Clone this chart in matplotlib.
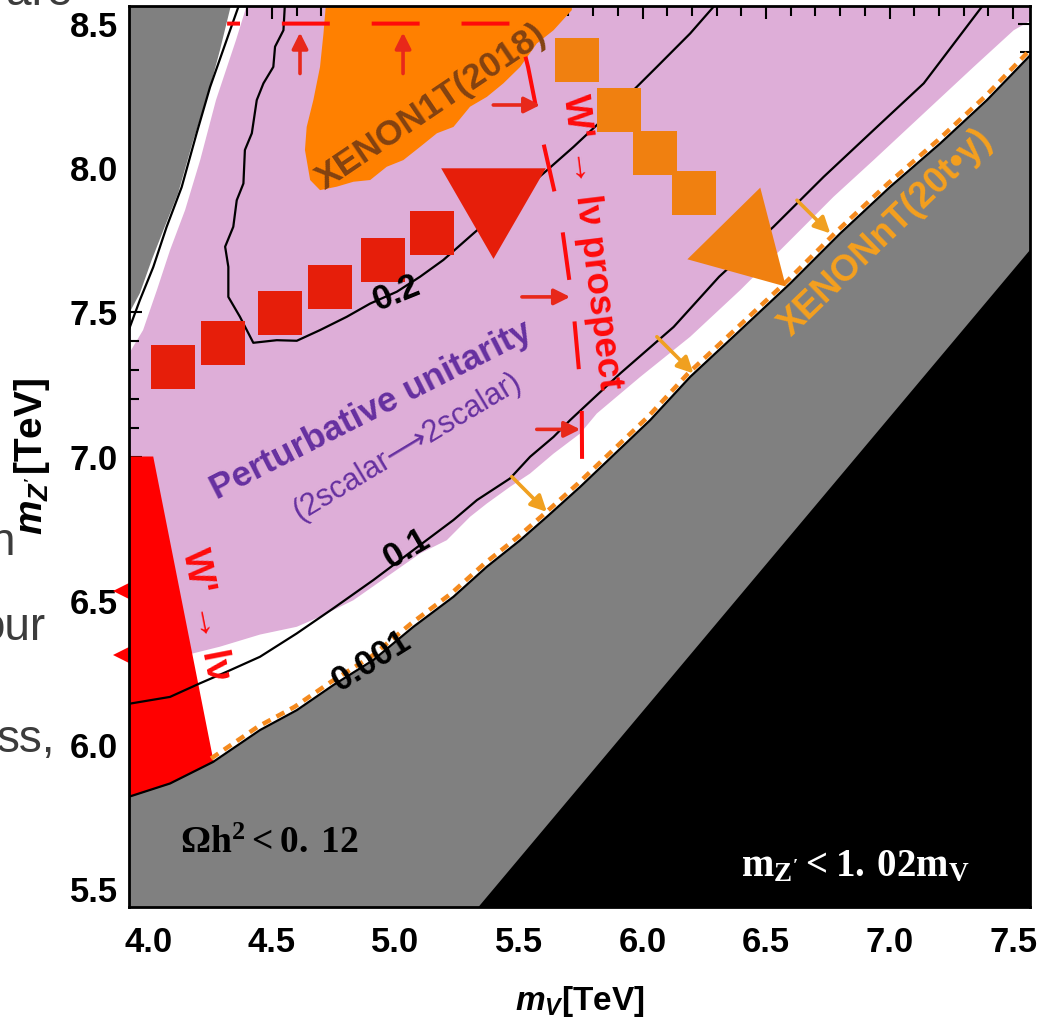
import numpy as np
import matplotlib.pyplot as plt
from matplotlib import transforms
from matplotlib.ticker import MultipleLocator

plt.rcParams['mathtext.fontset'] = 'custom'
plt.rcParams['mathtext.it'] = 'Liberation Sans:italic:bold'
plt.rcParams['mathtext.rm'] = 'Liberation Serif:bold'
plt.rcParams['mathtext.bf'] = 'Liberation Serif:bold'
plt.rcParams['font.family'] = ['Liberation Sans', 'DejaVu Sans']
plt.rcParams['font.weight'] = 'bold'
plt.rcParams['axes.labelweight'] = 'bold'

# axis window [TeV]
MV_LIM = (3.922, 7.568)
MZ_LIM = (5.439, 8.561)
MASS_RATIO = 1.02          # m_Z' < 1.02 m_V excluded
mv_edge = np.array([5.0, 7.8])

# relic density boundary (lower gray region, 0.001 contour)
relic_lo_mv = [3.90, 4.088, 4.263, 4.452, 4.601, 4.749, 4.911, 5.073, 5.235, 5.370, 5.505,
               5.613, 5.748, 6.031, 6.193, 6.396, 6.598, 6.800, 7.003, 7.205, 7.394, 7.58]
relic_lo_mz = [5.815, 5.867, 5.942, 6.052, 6.121, 6.208, 6.295, 6.410, 6.514, 6.618, 6.710,
               6.791, 6.895, 7.126, 7.276, 7.438, 7.600, 7.773, 7.935, 8.085, 8.235, 8.40]

# relic density boundary (upper-left gray region)
relic_ul_mv = [3.85, 4.345, 4.290, 4.236, 4.182, 4.121, 4.061, 4.014, 3.966, 3.90, 3.85]
relic_ul_mz = [8.60, 8.60, 8.408, 8.235, 8.096, 7.913, 7.784, 7.681, 7.566, 7.46, 7.46]

# contour lines
c_edge_mv = [4.382, 4.331, 4.250, 4.196, 4.135, 4.074, 4.020, 3.966, 3.90]
c_edge_mz = [8.60, 8.477, 8.280, 8.121, 7.933, 7.795, 7.656, 7.542, 7.39]

c02_mv = [4.555, 4.547, 4.513, 4.506, 4.466, 4.439, 4.419, 4.391, 4.385, 4.358, 4.344, 4.311,
          4.324, 4.324, 4.371, 4.425, 4.520, 4.601, 4.695, 4.803, 4.898, 5.006, 5.100, 5.194,
          5.316, 5.599, 5.721, 5.923, 6.058, 6.193, 6.33]
c02_mz = [8.60, 8.477, 8.420, 8.350, 8.293, 8.235, 8.120, 8.062, 7.946, 7.888, 7.796, 7.727,
          7.657, 7.553, 7.484, 7.394, 7.403, 7.401, 7.438, 7.484, 7.530, 7.571, 7.623, 7.681,
          7.773, 7.981, 8.073, 8.235, 8.350, 8.466, 8.60]

c01_mv = [3.90, 4.088, 4.209, 4.317, 4.452, 4.601, 4.749, 4.911, 5.073, 5.235, 5.330, 5.464,
          5.545, 5.640, 5.707, 5.910, 6.126, 6.310, 6.530, 6.733, 6.935, 7.138, 7.41]
c01_mz = [6.140, 6.167, 6.214, 6.254, 6.306, 6.387, 6.474, 6.572, 6.676, 6.780, 6.849, 6.924,
          6.999, 7.068, 7.126, 7.288, 7.449, 7.623, 7.796, 7.969, 8.131, 8.293, 8.60]

# perturbative unitarity region (2scalar -> 2scalar)
pu_left_mv = [3.90, 3.979, 4.035, 4.088, 4.149, 4.210, 4.274, 4.355, 4.412]
pu_left_mz = [7.325, 7.438, 7.577, 7.715, 7.854, 8.027, 8.235, 8.443, 8.60]
pu_right_mv = [7.60, 7.58, 7.502, 7.340, 7.138, 6.935, 6.773, 6.611, 6.396, 6.193, 5.991, 5.815,
               5.748, 5.640, 5.545, 5.464, 5.370, 5.302, 5.208, 5.100, 4.965, 4.830, 4.695,
               4.601, 4.452, 4.290, 4.182, 3.90]
pu_right_mz = [8.60, 8.515, 8.477, 8.350, 8.189, 8.027, 7.900, 7.761, 7.577, 7.415, 7.276, 7.149,
               7.080, 7.010, 6.941, 6.895, 6.837, 6.791, 6.710, 6.664, 6.583, 6.502, 6.445,
               6.410, 6.383, 6.341, 6.318, 6.272]

# XENON1T(2018) excluded region
x1t_mv = [4.722, 5.714, 5.714, 5.640, 5.572, 5.505, 5.437, 5.370, 5.302, 5.235, 5.168, 5.100,
          5.032, 4.965, 4.898, 4.830, 4.763, 4.695, 4.655, 4.634, 4.641, 4.668, 4.695, 4.709]
x1t_mz = [8.60, 8.60, 8.547, 8.477, 8.431, 8.350, 8.293, 8.246, 8.212, 8.142, 8.120, 8.073,
          8.027, 8.004, 7.958, 7.952, 7.935, 7.923, 7.958, 8.062, 8.142, 8.235, 8.350, 8.466]

# W' -> l nu current bound
wl_mv = [3.85, 4.020, 4.263, 4.30, 3.85]
wl_mz = [7.000, 7.000, 5.949, 5.78, 5.78]

# W' -> l nu prospect
wlp_mv = [4.319, 5.493, 5.537, 5.590, 5.671, 5.721, 5.754, 5.756]
wlp_mz = [8.500, 8.500, 8.349, 8.120, 7.815, 7.504, 7.192, 6.884]

# benchmark points
red_sq_mv = [4.102, 4.304, 4.533, 4.736, 4.951, 5.147]
red_sq_mz = [7.311, 7.392, 7.496, 7.588, 7.681, 7.773]
red_tri_mv, red_tri_mz = [5.393], [7.896]
or_sq_mv = [5.734, 5.903, 6.051, 6.207]
or_sq_mz = [8.373, 8.200, 8.050, 7.912]
or_tri_mv, or_tri_mz = [6.409], [7.738]

# arrows (tail -> tip)
up_arr_mv = [4.614, 5.031]
up_arr_mz = (8.327, 8.469)
rt_arr_mz = [8.218, 7.553, 7.094]
rt_arr_tail = [5.396, 5.512, 5.572]
rt_arr_tip = [5.586, 5.707, 5.748]
or_arr_tail = [(5.471, 6.930), (6.058, 7.415), (6.625, 7.888)]
or_arr_tip = [(5.613, 6.808), (6.206, 7.288), (6.760, 7.773)]

PINK = '#deaed8'
GRAY = '#808080'
ORANGE = '#ff8000'
ORANGE_PT = '#f08010'
ORANGE_LN = '#f5a01e'
RED = '#ff0a0a'
RED_PT = '#e61e0a'
PURPLE = '#6630a0'

fig = plt.figure(figsize=(10.57, 10.18), dpi=100)
ax = fig.add_axes([129 / 1057, 1 - 907 / 1018, 901 / 1057, 901 / 1018])

ax.fill(np.r_[pu_left_mv, pu_right_mv], np.r_[pu_left_mz, pu_right_mz], color=PINK, lw=0, zorder=1)
ax.fill(x1t_mv, x1t_mz, color=ORANGE, lw=0, zorder=2)
ax.fill(wl_mv, wl_mz, color='#ff0000', lw=0, zorder=2)
ax.fill(relic_ul_mv, relic_ul_mz, color=GRAY, lw=0, zorder=3)
ax.fill_between(relic_lo_mv, relic_lo_mz, 5.0, color=GRAY, lw=0, zorder=3)
ax.fill_between(mv_edge, MASS_RATIO * mv_edge, 5.0, color='black', lw=0, zorder=4)

# XENONnT dotted line sits just above the relic boundary
shift = transforms.offset_copy(ax.transData, fig=fig, x=-1.6, y=2.4, units='points')
i0 = relic_lo_mv.index(4.263)
ax.plot(relic_lo_mv[i0:], relic_lo_mz[i0:], color='#f58a1e', lw=3.2, ls=(0, (2.0, 1.5)),
        transform=shift, zorder=4.5)

for mv, mz in [(relic_lo_mv, relic_lo_mz), (c_edge_mv, c_edge_mz), (c02_mv, c02_mz), (c01_mv, c01_mz)]:
    ax.plot(mv, mz, color='black', lw=1.6, zorder=5)

ax.plot(wlp_mv, wlp_mz, color=RED, lw=2.9, ls=(8.7, (11.9, 10.4)), dash_capstyle='butt', zorder=6)

ax.plot(red_sq_mv, red_sq_mz, ls='none', marker='s', ms=31, color=RED_PT, mew=0, zorder=6)
ax.plot(red_tri_mv, red_tri_mz, ls='none', marker=(3, 0, 180), ms=87, color=RED_PT, mew=0, zorder=6)
ax.plot(or_sq_mv, or_sq_mz, ls='none', marker='s', ms=31, color=ORANGE_PT, mew=0, zorder=6)
ax.plot(or_tri_mv, or_tri_mz, ls='none', marker=(3, 0, -15.5), ms=85, color=ORANGE_PT, mew=0, zorder=6)

arr_red = dict(arrowstyle='-|>', color='#e8281a', lw=2.6, mutation_scale=24, shrinkA=0, shrinkB=0)
for mv in up_arr_mv:
    ax.annotate('', xy=(mv, up_arr_mz[1]), xytext=(mv, up_arr_mz[0]), arrowprops=arr_red, zorder=7)
for mz, t0, t1 in zip(rt_arr_mz, rt_arr_tail, rt_arr_tip):
    ax.annotate('', xy=(t1, mz), xytext=(t0, mz), arrowprops=arr_red, zorder=7)
arr_or = dict(arrowstyle='-|>', color='#f0a020', lw=2.6, mutation_scale=24, shrinkA=0, shrinkB=0)
for tail, tip in zip(or_arr_tail, or_arr_tip):
    ax.annotate('', xy=tip, xytext=tail, arrowprops=arr_or, zorder=7)

# labels inside the plot
ax.text(5.005, 7.565, '0.2', fontsize=25, rotation=22, ha='center', va='center', zorder=8)
ax.text(5.046, 6.682, '0.1', fontsize=25, rotation=30, ha='center', va='center', zorder=8)
ax.text(4.904, 6.292, '0.001', fontsize=25, rotation=32, ha='center', va='center', zorder=8)
ax.text(5.147, 8.212, 'XENON1T(2018)', fontsize=25.5, rotation=34, color='#834211',
        ha='center', va='center', zorder=8)
ax.text(4.900, 7.161, 'Perturbative unitarity', fontsize=25.5, rotation=27, color=PURPLE,
        ha='center', va='center', zorder=8)
ax.text(5.046, 7.032, '(2scalar⟶2scalar)', fontsize=22, rotation=31, color=PURPLE,
        fontweight='normal', ha='center', va='center', zorder=8)
ax.text(5.794, 7.743, "W' → lν prospect", fontsize=26.5, rotation=-83, color=RED,
        ha='center', va='center', zorder=8)
ax.text(4.230, 6.450, "W' → lν", fontsize=27, rotation=-79, color=RED,
        ha='center', va='center', zorder=8)
ax.text(6.984, 7.774, 'XENONnT(20t•y)', fontsize=26, rotation=44, color=ORANGE_LN,
        ha='center', va='center', zorder=8)
ax.text(4.490, 5.661, r'$\mathrm{\Omega h^2 < 0.\,12}$', fontsize=27, ha='center', va='center',
        zorder=8)
ax.text(6.861, 5.581, r"$\mathrm{m_{Z'} < 1.\,02m_V}$", fontsize=28, color='white',
        ha='center', va='center', zorder=8)

# small red marks poking out of the left frame
ax.plot([3.889, 3.889], [6.534, 6.312], ls='none', marker='<', ms=12, color='#ff0000',
        mew=0, clip_on=False, zorder=8)

ax.set_xlim(*MV_LIM)
ax.set_ylim(*MZ_LIM)
xt = np.arange(4.0, 7.51, 0.5)
yt = np.arange(5.5, 8.51, 0.5)
ax.set_xticks(xt, [f'{v:.1f}' for v in xt])
ax.set_yticks(yt, [f'{v:.1f}' for v in yt])
ax.xaxis.set_minor_locator(MultipleLocator(0.1))
ax.yaxis.set_minor_locator(MultipleLocator(0.1))
ax.tick_params(which='both', direction='in', top=True, right=True, width=1.5, labelsize=25)
ax.tick_params(which='major', length=9)
ax.tick_params(which='minor', length=7)
ax.tick_params(axis='x', pad=14)
ax.tick_params(axis='y', pad=8)
for s in ax.spines.values():
    s.set_linewidth(2)
    s.set_zorder(10)

ax.set_xlabel(r'$m_V$[TeV]', fontsize=24)
ax.xaxis.set_label_coords(0.5, -0.085)
ax.set_ylabel(r"$m_{Z'}$[TeV]", fontsize=28)
ax.yaxis.set_label_coords(-0.086, 0.5)

# fragments of the surrounding slide text
frag = dict(ha='right', va='baseline', fontsize=33, color='#3c3c3c', fontweight='normal')
fig.text(72 / 1057, 1 - 5 / 1018, 'are', **frag)
fig.text(15 / 1057, 1 - 555 / 1018, 'n', **frag)
fig.text(45 / 1057, 1 - 640 / 1018, 'our', **frag)
fig.text(55 / 1057, 1 - 752 / 1018, 'ss,', **frag)

fig.savefig('out.png', dpi=100)
